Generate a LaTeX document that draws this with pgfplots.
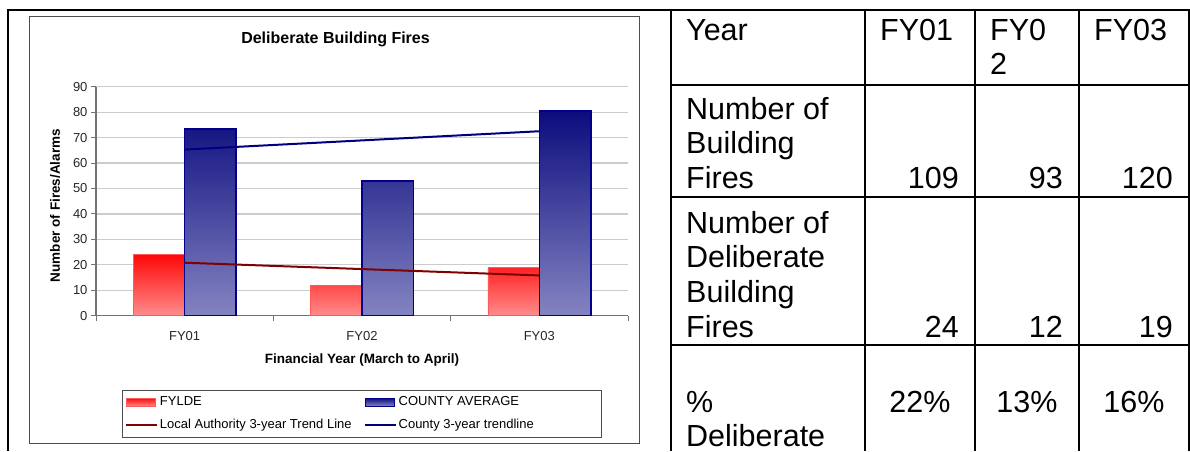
\documentclass[border=0pt]{standalone}
\usepackage{fontspec}
\setmainfont{Liberation Sans}
\usepackage{pgfplots}
\pgfplotsset{compat=1.18}
\definecolor{fylde}{HTML}{FF0808}
\definecolor{fyldelight}{HTML}{FF8C8C}
\definecolor{fyldeedge}{HTML}{FF5A5A}
\definecolor{cty}{HTML}{0C0C7E}
\definecolor{ctylight}{HTML}{8484C2}
\definecolor{ctyedge}{HTML}{00008C}
\definecolor{trendred}{HTML}{7E0000}
\definecolor{trendblue}{HTML}{00007E}
\newcommand\tf{\fontsize{30.5}{34.5}\selectfont}
\begin{document}
\begin{tikzpicture}
\useasboundingbox (0pt,0pt) rectangle (1190pt,-451pt);
\begin{scope}[x=1pt,y=-1pt]
% chart frame
\draw[black!70, line width=1pt] (29.5,16.5) rectangle (639,443);
% table lines
\draw[line width=2pt] (7,10) -- (1190,10);
\draw[line width=2pt] (8,10) -- (8,451);
\foreach \x in {671,865,975,1079,1188.5} \draw[line width=2pt] (\x,10) -- (\x,451);
\foreach \y in {85,197,345} \draw[line width=2pt] (671,\y) -- (1189,\y);
% table text
\begin{scope}[every node/.style={font=\tf, inner sep=0pt}]
\node[anchor=base west] at (686,40) {Year};
\node[anchor=base west] at (880,40) {FY01};
\node[anchor=base west] at (990,40) {FY0};
\node[anchor=base west] at (990,74.5) {2};
\node[anchor=base west] at (1094,40) {FY03};
\node[anchor=base west] at (686,119) {Number of};
\node[anchor=base west] at (686,153.5) {Building};
\node[anchor=base west] at (686,188) {Fires};
\node[anchor=base east] at (959,188) {109};
\node[anchor=base east] at (1063,188) {93};
\node[anchor=base east] at (1173,188) {120};
\node[anchor=base west] at (686,233) {Number of};
\node[anchor=base west] at (686,267.5) {Deliberate};
\node[anchor=base west] at (686,302) {Building};
\node[anchor=base west] at (686,337) {Fires};
\node[anchor=base east] at (959,337) {24};
\node[anchor=base east] at (1063,337) {12};
\node[anchor=base east] at (1173,337) {19};
\node[anchor=base west] at (686,412) {\%};
\node[anchor=base west] at (686,446.5) {Deliberate};
\node[anchor=base] at (920,412) {22\%};
\node[anchor=base] at (1027,412) {13\%};
\node[anchor=base] at (1134,412) {16\%};
\end{scope}
% chart title
\node[font=\bfseries\fontsize{16}{19}\selectfont] at (335.5,39) {Deliberate Building Fires};
\end{scope}
\begin{axis}[
  at={(96pt,-315.7pt)}, anchor=south west,
  scale only axis, width=532pt, height=229pt,
  xmin=-0.5, xmax=2.5, ymin=0, ymax=90,
  axis x line*=bottom, axis y line*=left,
  axis line style={black!55, line width=1.2pt},
  ytick={0,10,...,90},
  ymajorgrids, grid style={black!20, line width=1.2pt},
  xtick={-0.5,0.5,1.5,2.5}, xticklabels={},
  extra x ticks={0,1,2}, extra x tick labels={FY01,FY02,FY03},
  extra x tick style={major tick length=0pt, grid=none, xticklabel style={yshift=-12pt}},
  tick align=outside, major tick length=5pt,
  tick style={black!55, line width=1pt},
  ticklabel style={font=\fontsize{13}{15}\selectfont, text=black!85},
  /pgf/number format/assume math mode=true,
  xlabel={Financial Year (March to April)},
  ylabel={Number of Fires/Alarms},
  every axis x label/.style={at={(axis description cs:0.5,-0.193)}, anchor=center,
    font=\bfseries\fontsize{13.5}{16}\selectfont},
  every axis y label/.style={at={(axis description cs:-0.077,0.481)}, anchor=center, rotate=90,
    font=\bfseries\fontsize{13.5}{16}\selectfont},
  legend columns=2,
  legend cell align=left,
  legend style={at={(axis description cs:0.0489,-0.3245)}, anchor=north west,
    draw=black!70, line width=0.8pt, font=\fontsize{13}{15}\selectfont,
    inner xsep=3pt, inner ysep=5pt, row sep=9pt,
    nodes={inner sep=1.5pt},
    /tikz/every even column/.append style={column sep=11pt}},
]
\addplot[ybar, bar shift=-0.145, bar width=0.29, draw=fyldeedge, line width=0.8pt,
  top color=fylde, bottom color=fyldelight,
  legend image code/.code={\draw[draw=fyldeedge, line width=0.8pt, top color=fylde, bottom color=fyldelight] (0pt,-4pt) rectangle (29pt,4pt);}]
  coordinates {(0,24) (1,12) (2,19)};
\addlegendentry{FYLDE}
\addplot[ybar, bar shift=0.145, bar width=0.29, draw=ctyedge, line width=1.5pt,
  top color=cty, bottom color=ctylight,
  legend image code/.code={\draw[draw=ctyedge, line width=1.2pt, top color=cty, bottom color=ctylight] (0pt,-4pt) rectangle (29pt,4pt);}]
  coordinates {(0,73.3) (1,52.9) (2,80.5)};
\addlegendentry{\makebox[198pt][l]{COUNTY AVERAGE}}
\addplot[trendred, line width=2pt, mark=none,
  legend image code/.code={\draw[trendred, line width=2pt] (0pt,0pt) -- (31pt,0pt);}]
  coordinates {(0,20.83) (1,18.33) (2,15.83)};
\addlegendentry{Local Authority 3-year Trend Line}
\addplot[trendblue, line width=2pt, mark=none,
  legend image code/.code={\draw[trendblue, line width=2pt] (0pt,0pt) -- (31pt,0pt);}]
  coordinates {(0,65.3) (1,68.9) (2,72.5)};
\addlegendentry{County 3-year trendline}
\end{axis}
\end{tikzpicture}
\end{document}
